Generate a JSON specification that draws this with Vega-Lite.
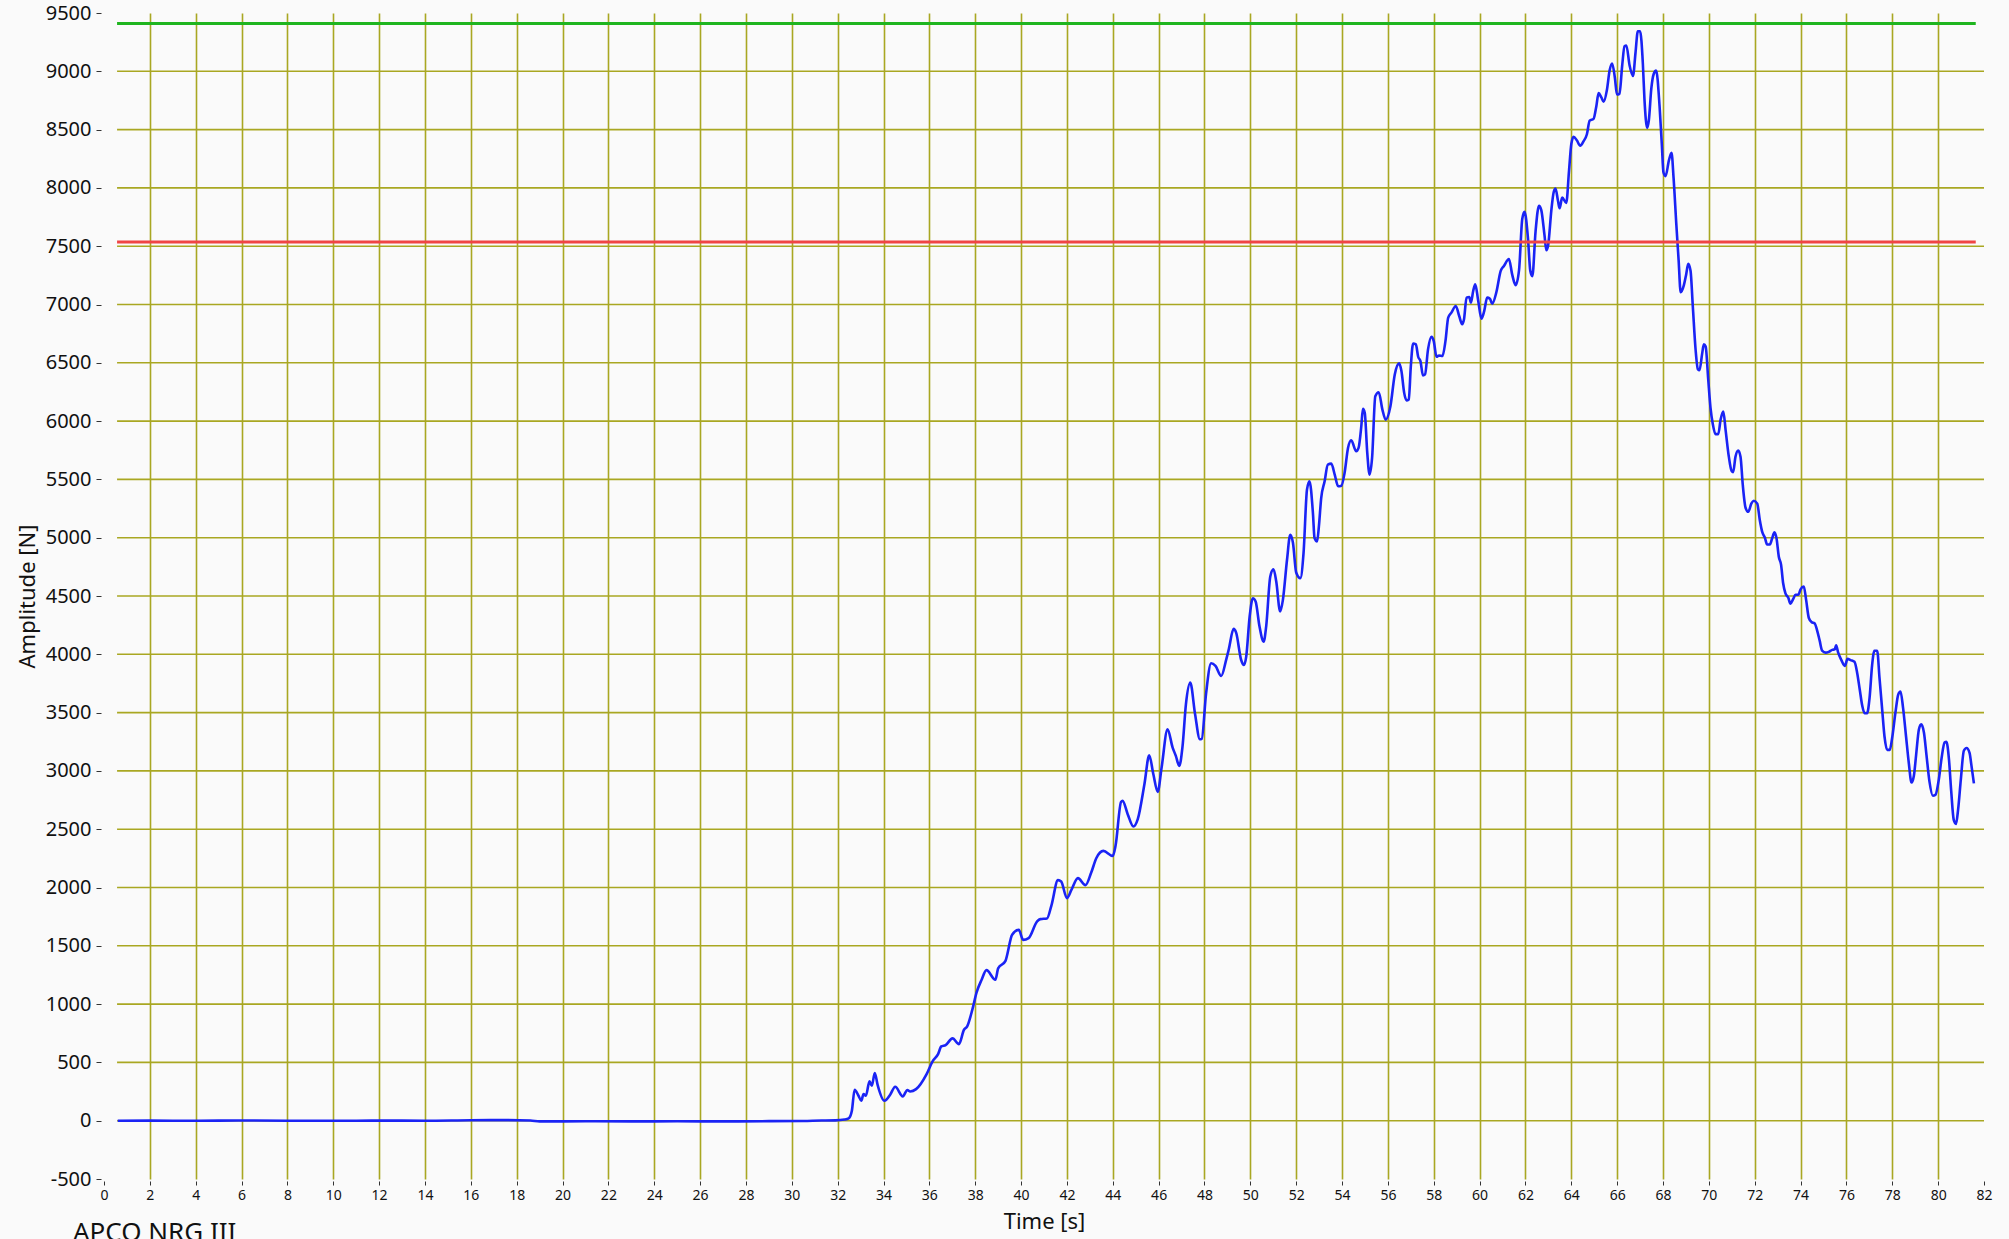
{
  "$schema": "https://vega.github.io/schema/vega-lite/v6.json",
  "width": 1880,
  "height": 1166,
  "autosize": "none",
  "padding": {"left": 104, "top": 13, "right": 25, "bottom": 60},
  "background": "#fafafa",
  "config": {"view": {"stroke": null}, "font": "Noto Sans"},
  "title": {"text": "APCO NRG III", "orient": "bottom", "anchor": "start", "frame": "group", "fontSize": 26, "fontWeight": "normal", "color": "#111111", "dx": -31, "offset": -12, "baseline": "top"},
  "datasets": {
    "gridrows": [
      {"g": 0, "t0": 0.57, "t1": 82}, {"g": 500, "t0": 0.57, "t1": 82}, {"g": 1000, "t0": 0.57, "t1": 82}, {"g": 1500, "t0": 0.57, "t1": 82},
      {"g": 2000, "t0": 0.57, "t1": 82}, {"g": 2500, "t0": 0.57, "t1": 82}, {"g": 3000, "t0": 0.57, "t1": 82}, {"g": 3500, "t0": 0.57, "t1": 82},
      {"g": 4000, "t0": 0.57, "t1": 82}, {"g": 4500, "t0": 0.57, "t1": 82}, {"g": 5000, "t0": 0.57, "t1": 82}, {"g": 5500, "t0": 0.57, "t1": 82},
      {"g": 6000, "t0": 0.57, "t1": 82}, {"g": 6500, "t0": 0.57, "t1": 82}, {"g": 7000, "t0": 0.57, "t1": 82}, {"g": 7500, "t0": 0.57, "t1": 82},
      {"g": 8000, "t0": 0.57, "t1": 82}, {"g": 8500, "t0": 0.57, "t1": 82}, {"g": 9000, "t0": 0.57, "t1": 82}
    ],
    "limits": [
      {"level": "upper", "v": 9410, "t0": 0.57, "t1": 81.64},
      {"level": "lower", "v": 7535, "t0": 0.57, "t1": 81.64}
    ],
    "force": [
      {"t":0.6,"v":0},{"t":2,"v":1},{"t":4,"v":-1},{"t":6,"v":2},{"t":8,"v":0},{"t":10,"v":-1},{"t":12,"v":1},{"t":14,"v":0},{"t":16,"v":4},{"t":17.5,"v":5},{"t":18.6,"v":2},{"t":19,"v":-6},{"t":21,"v":-5},{"t":23,"v":-6},{"t":25,"v":-5},{"t":27,"v":-6},{"t":29,"v":-4},{"t":30.5,"v":-2},{"t":31.3,"v":2},{"t":31.9,"v":3},{"t":32.3,"v":10},
      {"t":32.48,"v":20},{"t":32.62,"v":86},{"t":32.74,"v":266},{"t":32.91,"v":214},{"t":33.03,"v":171},{"t":33.13,"v":229},{"t":33.23,"v":214},{"t":33.39,"v":337},{"t":33.49,"v":300},{"t":33.62,"v":409},{"t":33.74,"v":309},{"t":34.04,"v":171},{"t":34.29,"v":223},{"t":34.51,"v":291},{"t":34.84,"v":209},{"t":35.04,"v":263},{"t":35.16,"v":251},{"t":35.42,"v":271},{"t":35.88,"v":400},{"t":36.14,"v":509},{"t":36.38,"v":571},{"t":36.52,"v":637},{"t":36.71,"v":649},{"t":37.01,"v":706},{"t":37.29,"v":657},{"t":37.51,"v":780},{"t":37.65,"v":809},{"t":37.88,"v":957},{"t":38.06,"v":1100},{"t":38.28,"v":1209},{"t":38.49,"v":1291},{"t":38.88,"v":1209},{"t":39.0,"v":1306},{"t":39.32,"v":1371},{"t":39.61,"v":1594},{"t":39.9,"v":1637},{"t":40.09,"v":1551},{"t":40.33,"v":1566},{"t":40.7,"v":1709},{"t":40.84,"v":1729},{"t":41.13,"v":1734},{"t":41.32,"v":1843},{"t":41.61,"v":2063},{"t":41.75,"v":2051},{"t":42.0,"v":1909},{"t":42.19,"v":1977},{"t":42.48,"v":2080},{"t":42.81,"v":2020},{"t":43.06,"v":2128},{"t":43.28,"v":2251},{"t":43.59,"v":2314},{"t":44.0,"v":2271},{"t":44.12,"v":2357},{"t":44.36,"v":2734},{"t":44.43,"v":2743},{"t":44.65,"v":2629},{"t":44.9,"v":2523},{"t":45.09,"v":2586},{"t":45.38,"v":2886},{"t":45.59,"v":3134},{"t":45.77,"v":2971},{"t":45.96,"v":2820},{"t":46.13,"v":3029},{"t":46.39,"v":3357},{"t":46.61,"v":3200},{"t":46.75,"v":3129},{"t":46.9,"v":3043},{"t":47.04,"v":3206},{"t":47.19,"v":3571},{"t":47.38,"v":3757},{"t":47.59,"v":3486},{"t":47.8,"v":3271},{"t":47.88,"v":3275},
      {"t":48.07,"v":3665},{"t":48.29,"v":3923},{"t":48.48,"v":3900},{"t":48.73,"v":3814},{"t":48.95,"v":3957},{"t":49.06,"v":4043},{"t":49.27,"v":4218},{"t":49.38,"v":4186},{"t":49.6,"v":3951},{"t":49.72,"v":3908},{"t":49.82,"v":3980},{"t":49.97,"v":4324},{"t":50.11,"v":4481},{"t":50.23,"v":4453},{"t":50.4,"v":4238},{"t":50.58,"v":4109},{"t":50.69,"v":4238},{"t":50.87,"v":4667},{"t":51.01,"v":4730},{"t":51.13,"v":4624},{"t":51.3,"v":4367},{"t":51.42,"v":4467},{"t":51.6,"v":4811},{"t":51.74,"v":5025},{"t":51.86,"v":4954},{"t":52.0,"v":4702},{"t":52.18,"v":4653},{"t":52.32,"v":4868},{"t":52.47,"v":5412},{"t":52.58,"v":5484},{"t":52.73,"v":5211},{"t":52.8,"v":4997},{"t":52.91,"v":4968},{"t":52.99,"v":5097},{"t":53.09,"v":5340},{"t":53.24,"v":5484},{"t":53.38,"v":5627},{"t":53.53,"v":5635},{"t":53.68,"v":5541},{"t":53.83,"v":5441},{"t":53.97,"v":5446},{"t":54.11,"v":5555},{"t":54.26,"v":5770},{"t":54.4,"v":5836},{"t":54.62,"v":5741},{"t":54.72,"v":5770},{"t":54.84,"v":5956},{"t":54.91,"v":6105},{"t":54.99,"v":6071},{"t":55.1,"v":5727},{"t":55.2,"v":5541},{"t":55.31,"v":5684},{"t":55.45,"v":6214},{"t":55.6,"v":6248},{"t":55.76,"v":6099},{"t":55.9,"v":6013},{"t":56.11,"v":6128},{"t":56.3,"v":6400},{"t":56.49,"v":6495},{"t":56.59,"v":6429},{"t":56.71,"v":6242},{"t":56.81,"v":6177},{"t":56.91,"v":6185},{"t":57.0,"v":6472},{"t":57.1,"v":6666},{"t":57.22,"v":6658},{"t":57.32,"v":6552},{"t":57.42,"v":6515},{"t":57.53,"v":6391},{"t":57.62,"v":6400},{"t":57.75,"v":6615},{"t":57.9,"v":6724},{"t":58.0,"v":6686},{"t":58.12,"v":6552},{"t":58.23,"v":6563},{"t":58.38,"v":6558},{"t":58.51,"v":6686},{"t":58.63,"v":6887},{"t":58.77,"v":6930},{"t":58.96,"v":6987},{"t":59.11,"v":6901},{"t":59.24,"v":6830},{"t":59.32,"v":6873},{"t":59.43,"v":7059},{"t":59.55,"v":7064},{"t":59.62,"v":7016},{"t":59.72,"v":7116},{"t":59.81,"v":7173},{"t":59.94,"v":7030},{"t":60.08,"v":6878},{"t":60.2,"v":6944},{"t":60.33,"v":7059},{"t":60.45,"v":7049},{"t":60.55,"v":7006},{"t":60.73,"v":7105},{"t":60.92,"v":7289},{"t":61.06,"v":7331},{"t":61.28,"v":7390},{"t":61.42,"v":7258},{"t":61.57,"v":7166},{"t":61.72,"v":7295},{"t":61.86,"v":7733},{"t":61.96,"v":7795},{"t":62.11,"v":7565},{"t":62.21,"v":7289},{"t":62.3,"v":7243},{"t":62.44,"v":7626},{"t":62.59,"v":7847},{"t":62.69,"v":7810},{"t":62.83,"v":7595},{"t":62.91,"v":7466},{"t":62.99,"v":7509},{"t":63.13,"v":7810},{"t":63.23,"v":7963},{"t":63.31,"v":7994},{"t":63.42,"v":7887},{"t":63.49,"v":7825},{"t":63.6,"v":7917},{"t":63.78,"v":7871},{"t":63.9,"v":8147},{"t":64.0,"v":8377},{"t":64.1,"v":8439},{"t":64.24,"v":8408},{"t":64.39,"v":8362},{"t":64.53,"v":8399},{"t":64.68,"v":8460},{"t":64.8,"v":8577},{"t":64.97,"v":8592},{"t":65.09,"v":8699},{"t":65.19,"v":8813},{"t":65.31,"v":8776},{"t":65.41,"v":8739},{"t":65.55,"v":8837},{"t":65.67,"v":9006},{"t":65.78,"v":9067},{"t":65.9,"v":8945},{"t":65.99,"v":8801},{"t":66.1,"v":8807},{"t":66.22,"v":9052},{"t":66.32,"v":9215},{"t":66.4,"v":9221},{"t":66.54,"v":9052},{"t":66.69,"v":8960},{"t":66.8,"v":9159},{"t":66.9,"v":9343},{"t":67.0,"v":9343},{"t":67.12,"v":9067},{"t":67.19,"v":8761},{"t":67.31,"v":8515},{"t":67.38,"v":8577},{"t":67.49,"v":8853},{"t":67.59,"v":8975},{"t":67.7,"v":9006},{"t":67.85,"v":8699},{"t":67.95,"v":8362},{"t":68.02,"v":8132},{"t":68.11,"v":8101},{"t":68.26,"v":8239},{"t":68.37,"v":8301},{"t":68.46,"v":8086},{"t":68.58,"v":7687},{"t":68.68,"v":7381},{"t":68.77,"v":7105},{"t":68.91,"v":7166},{"t":69.01,"v":7258},{"t":69.1,"v":7350},{"t":69.2,"v":7289},{"t":69.3,"v":6982},{"t":69.42,"v":6614},{"t":69.52,"v":6445},{"t":69.59,"v":6436},{"t":69.71,"v":6583},{"t":69.78,"v":6659},{"t":69.86,"v":6640},{"t":69.97,"v":6361},
      {"t":70.07,"v":6116},{"t":70.17,"v":5976},{"t":70.29,"v":5888},{"t":70.41,"v":5888},{"t":70.51,"v":6011},{"t":70.63,"v":6081},{"t":70.73,"v":5923},{"t":70.87,"v":5695},{"t":70.99,"v":5573},{"t":71.06,"v":5562},{"t":71.16,"v":5695},{"t":71.28,"v":5748},{"t":71.38,"v":5695},{"t":71.48,"v":5450},{"t":71.6,"v":5257},{"t":71.72,"v":5222},{"t":71.85,"v":5292},{"t":71.96,"v":5317},{"t":72.11,"v":5292},{"t":72.22,"v":5152},{"t":72.33,"v":5047},{"t":72.44,"v":5002},{"t":72.54,"v":4942},{"t":72.66,"v":4942},{"t":72.76,"v":4995},{"t":72.86,"v":5047},{"t":72.95,"v":4995},{"t":73.05,"v":4837},{"t":73.15,"v":4767},{"t":73.24,"v":4609},{"t":73.34,"v":4522},{"t":73.46,"v":4487},{"t":73.56,"v":4434},{"t":73.68,"v":4476},{"t":73.78,"v":4511},{"t":73.9,"v":4511},{"t":74.0,"v":4557},{"t":74.14,"v":4581},{"t":74.24,"v":4469},{"t":74.36,"v":4311},{"t":74.48,"v":4276},{"t":74.61,"v":4266},{"t":74.72,"v":4206},{"t":74.83,"v":4119},{"t":74.94,"v":4031},{"t":75.09,"v":4014},{"t":75.23,"v":4021},{"t":75.38,"v":4038},{"t":75.49,"v":4042},{"t":75.55,"v":4077},{"t":75.64,"v":4014},{"t":75.78,"v":3950},{"t":75.93,"v":3901},{"t":76.05,"v":3961},{"t":76.18,"v":3950},{"t":76.35,"v":3936},{"t":76.47,"v":3838},{"t":76.58,"v":3698},{"t":76.69,"v":3558},{"t":76.79,"v":3495},{"t":76.9,"v":3495},{"t":77.01,"v":3628},{"t":77.12,"v":3908},{"t":77.22,"v":4031},{"t":77.34,"v":4031},{"t":77.44,"v":3803},{"t":77.56,"v":3523},{"t":77.66,"v":3295},{"t":77.78,"v":3180},{"t":77.89,"v":3180},{"t":77.99,"v":3278},{"t":78.14,"v":3505},{"t":78.26,"v":3656},{"t":78.36,"v":3681},{"t":78.47,"v":3540},{"t":78.6,"v":3295},{"t":78.72,"v":3068},{"t":78.84,"v":2900},{"t":78.94,"v":2956},{"t":79.04,"v":3138},{"t":79.16,"v":3355},{"t":79.26,"v":3400},{"t":79.38,"v":3330},{"t":79.49,"v":3138},{"t":79.62,"v":2910},{"t":79.77,"v":2787},{"t":79.88,"v":2794},{"t":80.03,"v":2927},{"t":80.15,"v":3110},{"t":80.28,"v":3243},{"t":80.36,"v":3250},{"t":80.47,"v":3103},{"t":80.57,"v":2826},{"t":80.68,"v":2580},{"t":80.78,"v":2546},{"t":80.87,"v":2668},{"t":80.99,"v":2927},{"t":81.12,"v":3173},{"t":81.24,"v":3197},{"t":81.37,"v":3155},{"t":81.45,"v":3050},{"t":81.56,"v":2893}
    ]
  },
  "layer": [
    {
      "data": {"name": "gridrows"},
      "mark": {"type": "rule", "color": "#a9a722", "strokeWidth": 1.6},
      "encoding": {
        "x": {"field": "t0", "type": "quantitative"},
        "x2": {"field": "t1"},
        "y": {"field": "g", "type": "quantitative"}
      }
    },
    {
      "data": {"name": "force"},
      "mark": {"type": "line", "color": "#1a23f5", "strokeWidth": 2.6, "interpolate": "monotone", "clip": true},
      "encoding": {
        "x": {
          "field": "t", "type": "quantitative",
          "scale": {"domain": [0, 82], "nice": false, "zero": false},
          "axis": {
            "values": [0,2,4,6,8,10,12,14,16,18,20,22,24,26,28,30,32,34,36,38,40,42,44,46,48,50,52,54,56,58,60,62,64,66,68,70,72,74,76,78,80,82],
            "labelExpr": "'' + datum.value",
            "grid": true, "gridColor": "#a9a722", "gridWidth": 1.6,
            "gridOpacity": {"condition": {"test": "datum.value == 0 || datum.value == 82", "value": 0}, "value": 1},
            "domain": false, "ticks": true, "tickColor": "#333333", "tickSize": 4, "tickWidth": 1, "offset": 2,
            "labelFontSize": 14, "labelColor": "#111111", "labelPadding": 3, "labelFlush": false, "labelOverlap": false,
            "title": "Time [s]", "titleFontSize": 22, "titleFontWeight": "normal", "titleColor": "#111111", "titlePadding": 9
          }
        },
        "y": {
          "field": "v", "type": "quantitative",
          "scale": {"domain": [-500, 9500], "nice": false, "zero": false},
          "axis": {
            "values": [-500,0,500,1000,1500,2000,2500,3000,3500,4000,4500,5000,5500,6000,6500,7000,7500,8000,8500,9000,9500],
            "labelExpr": "'' + datum.value",
            "grid": false,
            "domain": false, "ticks": true, "tickColor": "#333333", "tickSize": 5, "tickWidth": 1, "offset": 3,
            "labelFontSize": 20, "labelColor": "#111111", "labelPadding": 5, "labelOverlap": false,
            "title": "Amplitude [N]", "titleFontSize": 22, "titleFontWeight": "normal", "titleColor": "#111111", "titlePadding": 6
          }
        }
      }
    },
    {
      "data": {"name": "limits"},
      "mark": {"type": "rule", "strokeWidth": 3},
      "encoding": {
        "x": {"field": "t0", "type": "quantitative"},
        "x2": {"field": "t1"},
        "y": {"field": "v", "type": "quantitative"},
        "color": {"field": "level", "type": "nominal", "scale": {"domain": ["upper", "lower"], "range": ["#1fb51f", "#f04545"]}, "legend": null}
      }
    }
  ]
}
